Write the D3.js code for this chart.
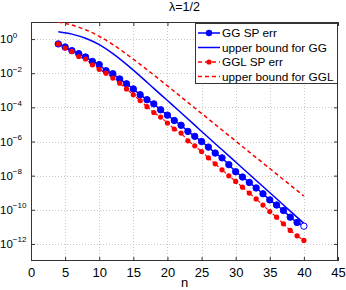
<!DOCTYPE html>
<html><head><meta charset="utf-8">
<script src="https://cdn.jsdelivr.net/npm/d3@7"></script>
<style>body{margin:0;background:#fff}svg{display:block}text{font-family:"Liberation Sans",Arial,sans-serif}</style>
</head><body>
<svg id="c" width="346" height="290"></svg>
<script>
const nVals = [4,5,6,7,8,9,10,11,12,13,14,15,16,17,18,19,20,21,22,23,24,25,26,27,28,29,30,31,32,33,34,35,36,37,38,39,40];
const ggErr = [5.2e-1,3.4e-1,2.1e-1,1.4e-1,8.9e-2,4.9e-2,3.2e-2,1.4e-2,9.3e-3,4.6e-3,2.4e-3,1.2e-3,5.5e-4,2.8e-4,1.6e-4,7.2e-5,3.5e-5,1.7e-5,8.9e-6,3.9e-6,2.0e-6,1.0e-6,4.7e-7,2.1e-7,1.1e-7,4.4e-8,1.7e-8,8.3e-9,4.0e-9,1.9e-9,8.7e-10,3.8e-10,1.9e-10,9.1e-11,3.7e-11,1.8e-11,1.1e-11];
const gglErr = [5.2e-1,3.0e-1,1.9e-1,9.5e-2,6.8e-2,3.1e-2,1.7e-2,1.0e-2,5.2e-3,2.6e-3,1.2e-3,5.5e-4,2.5e-4,1.1e-4,5.0e-5,2.7e-5,1.2e-5,5.4e-6,3.1e-6,1.1e-6,5.6e-7,2.6e-7,1.1e-7,4.9e-8,2.2e-8,9.8e-9,4.6e-9,2.1e-9,9.5e-10,4.3e-10,1.9e-10,7.9e-11,3.7e-11,1.5e-11,6.2e-12,3.0e-12,1.6e-12];
const nBound = [4,6,8,10,12,14,16,18,20,22,24,26,28,30,32,34,36,38,40];
const ggBound = [2.7,1.95,1.12,4.7e-1,1.4e-1,3.3e-2,6.8e-3,1.3e-3,2.5e-4,4.8e-5,9.1e-6,1.7e-6,3.3e-7,6.3e-8,1.2e-8,2.3e-9,4.4e-10,8.3e-11,1.6e-11];
const gglBound = [10,6.6,3.5,1.45,4.8e-1,1.3e-1,3.3e-2,7.9e-3,1.8e-3,4.1e-4,9.2e-5,2.1e-5,4.7e-6,1.07e-6,2.4e-7,5.5e-8,1.24e-8,2.8e-9,6.4e-10];
const xTicks = [0,5,10,15,20,25,30,35,40,45];
const yTickExp = [0,-2,-4,-6,-8,-10,-12];
const legendLabels = ["GG SP err","upper bound for GG","GGL SP err","upper bound for GGL"];
const titleText = "λ=1/2";
const xLabel = "n";

const svg = d3.select("#c");
const L=31,R=338,T=22,B=261;
const x = d3.scaleLinear().domain([0,45]).range([L,R]);
const y = d3.scaleLog().domain([1e-13,1e1]).range([B,T]);

const g = svg.append("g");
g.selectAll(".gx").data(xTicks.slice(1,-1)).enter().append("line")
 .attr("x1",d=>Math.round(x(d))+0.5).attr("x2",d=>Math.round(x(d))+0.5).attr("y1",T).attr("y2",B)
 .attr("stroke","#c8c8c8").attr("stroke-width",1).attr("stroke-dasharray","1,2");
g.selectAll(".gy").data(yTickExp).enter().append("line")
 .attr("x1",L).attr("x2",R).attr("y1",d=>Math.round(y(Math.pow(10,d)))+0.5).attr("y2",d=>Math.round(y(Math.pow(10,d)))+0.5)
 .attr("stroke","#c8c8c8").attr("stroke-width",1).attr("stroke-dasharray","1,2");

const xb = svg.append("g").attr("transform",`translate(0,${B})`).call(d3.axisBottom(x).tickValues(xTicks).tickSize(-4).tickPadding(7));
const xt = svg.append("g").attr("transform",`translate(0,${T})`).call(d3.axisTop(x).tickValues(xTicks).tickSize(-4).tickFormat(""));
const yl = svg.append("g").attr("transform",`translate(${L},0)`).call(d3.axisLeft(y).tickValues(yTickExp.map(e=>Math.pow(10,e))).tickSize(-4).tickFormat(""));
const yr = svg.append("g").attr("transform",`translate(${R},0)`).call(d3.axisRight(y).tickValues(yTickExp.map(e=>Math.pow(10,e))).tickSize(-4).tickFormat(""));
[xb,xt,yl,yr].forEach(a=>{a.select(".domain").remove();a.selectAll(".tick line").attr("stroke","#333");});
xb.selectAll(".tick text").attr("font-size",13).attr("fill","#000").attr("font-family","Liberation Sans, Arial, sans-serif");
svg.append("rect").attr("x",L+0.5).attr("y",T+0.5).attr("width",R-L-1).attr("height",B-T-1).attr("fill","none").attr("stroke","#333").attr("stroke-width",1);

const yLab = svg.append("g");
yTickExp.forEach(e=>{
  const t = yLab.append("text").attr("x",0).attr("y",y(Math.pow(10,e))+4).attr("font-size",11.5).attr("fill","#000");
  t.append("tspan").text("10");
  t.append("tspan").attr("font-size",8).attr("dy",-5.5).text(e===0?"0":"\u2212"+(-e));
});

svg.append("clipPath").attr("id","pc").append("rect").attr("x",L).attr("y",T).attr("width",R-L).attr("height",B-T);
const p = svg.append("g").attr("clip-path","url(#pc)");

const lineE = d3.line().x((d,i)=>x(nVals[i])).y(d=>y(d));
const lineB = d3.line().x((d,i)=>x(nBound[i])).y(d=>y(d)).curve(d3.curveMonotoneX);

p.append("path").attr("d",lineB(gglBound)).attr("fill","none").attr("stroke","#f00").attr("stroke-width",1.5).attr("stroke-dasharray","4,3");
p.append("path").attr("d",lineB(ggBound)).attr("fill","none").attr("stroke","#00f").attr("stroke-width",1.5);
p.append("path").attr("d",lineE(gglErr)).attr("fill","none").attr("stroke","#f00").attr("stroke-width",1.2).attr("stroke-dasharray","3,2");
p.append("path").attr("d",lineE(ggErr)).attr("fill","none").attr("stroke","#00f").attr("stroke-width",1.5);
p.selectAll(".gge").data(ggErr).enter().append("circle")
 .attr("cx",(d,i)=>x(nVals[i])).attr("cy",d=>y(d)).attr("r",3.2)
 .attr("fill",(d,i)=>i===ggErr.length-1?"#fff":"#00f").attr("stroke","#00f").attr("stroke-width",1);
p.selectAll(".ggle").data(gglErr).enter().append("circle")
 .attr("cx",(d,i)=>x(nVals[i])).attr("cy",d=>y(d)).attr("r",2.6).attr("fill","#f00");

const lg = svg.append("g");
lg.append("rect").attr("x",195.5).attr("y",23.5).attr("width",142).attr("height",60).attr("fill","#fff").attr("stroke","#333");
const rows=[33,47.5,62,76.5];
const lx1=198,lx2=220;
rows.forEach((ry,i)=>{
  const col = i<2?"#00f":"#f00";
  lg.append("line").attr("x1",lx1).attr("x2",lx2).attr("y1",ry).attr("y2",ry).attr("stroke",col).attr("stroke-width",1.5)
    .attr("stroke-dasharray",i>=2?"4,3":null);
  if(i===0) lg.append("circle").attr("cx",(lx1+lx2)/2).attr("cy",ry).attr("r",3.2).attr("fill","#00f");
  if(i===2) lg.append("circle").attr("cx",(lx1+lx2)/2).attr("cy",ry).attr("r",2.6).attr("fill","#f00");
  lg.append("text").attr("x",222).attr("y",ry+4.2).attr("font-size",11.8).attr("fill","#000").text(legendLabels[i]);
});

svg.append("text").attr("x",184.5).attr("y",11).attr("text-anchor","middle").attr("font-size",12.5).text(titleText);
svg.append("text").attr("x",184.5).attr("y",287).attr("text-anchor","middle").attr("font-size",13).text(xLabel);
</script>
</body></html>
